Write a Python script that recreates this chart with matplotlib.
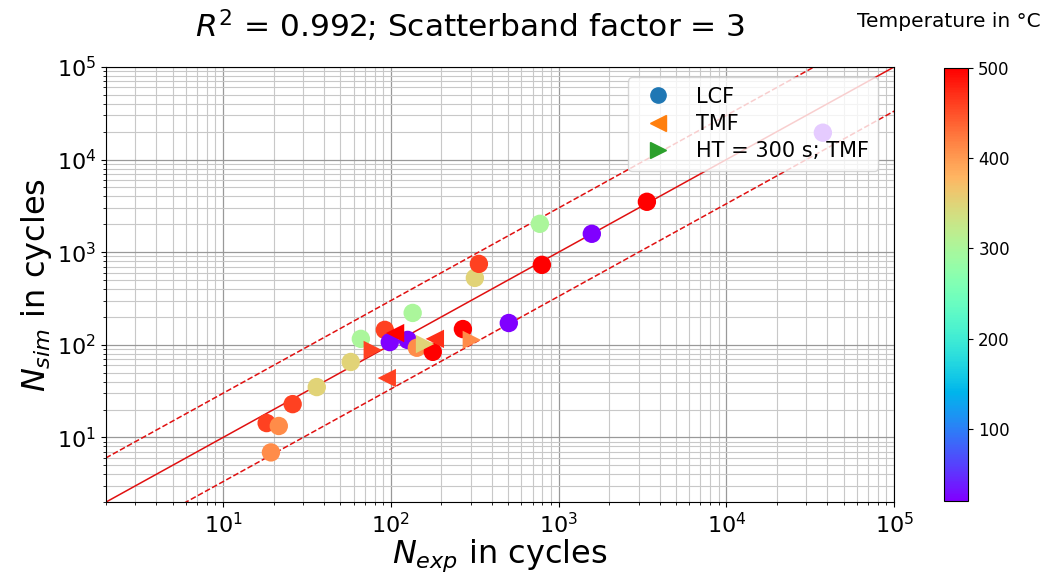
import numpy as np
import matplotlib
matplotlib.use('Agg')
import matplotlib.pyplot as plt
from matplotlib.lines import Line2D

# LCF tests (circles)
lcf_exp = [18.2, 21.5, 19.3, 26.0, 36.2, 57.7, 66.3, 92.1, 98.6, 126, 135, 143, 178,
           269, 505, 317, 335, 795, 773, 1578, 3360, 37600]
lcf_sim = [14.3, 13.3, 6.9, 22.9, 35.0, 65.3, 116, 145, 107, 113, 221, 93, 84,
           148, 172, 528, 748, 730, 2025, 1580, 3500, 19500]
lcf_temp = [460, 410, 410, 460, 350, 350, 300, 460, 20, 20, 300, 410, 500,
            500, 20, 350, 460, 500, 300, 20, 500, 20]

# TMF tests (left triangles)
tmf_exp = [106, 183, 94.6]
tmf_sim = [134, 116, 43.8]
tmf_temp = [500, 470, 460]

# HT = 300 s; TMF (right triangles)
ht_exp = [78.1, 160, 304]
ht_sim = [88, 102, 113]
ht_temp = [460, 350, 410]

t_min, t_max = 20, 500
lims = [2, 1e5]
band = 3

fig = plt.figure(figsize=(10.47, 5.72), dpi=100)
ax = fig.add_axes([0.101, 0.122, 0.753, 0.761])
cax = fig.add_axes([0.902, 0.124, 0.023, 0.757])

ax.set_xscale('log')
ax.set_yscale('log')
ax.set_xlim(lims)
ax.set_ylim(lims)
ax.grid(True, which='major', color='#999999', lw=0.9)
ax.grid(True, which='minor', color='#c8c8c8', lw=0.8)
ax.set_axisbelow(True)

xx = np.array(lims)
ax.plot(xx, xx, color='#e01010', lw=1.1, zorder=2)
ax.plot(xx, xx * band, color='#e01010', lw=1.1, ls='--', zorder=2)
ax.plot(xx, xx / band, color='#e01010', lw=1.1, ls='--', zorder=2)

kw = dict(cmap='rainbow', vmin=t_min, vmax=t_max, s=175, zorder=3, linewidths=0)
sc = ax.scatter(lcf_exp, lcf_sim, c=lcf_temp, marker='o', **kw)
ax.scatter(tmf_exp, tmf_sim, c=tmf_temp, marker='<', **kw)
ax.scatter(ht_exp, ht_sim, c=ht_temp, marker='>', **kw)

handles = [Line2D([], [], ls='', marker='o', color='C0', ms=11),
           Line2D([], [], ls='', marker='<', color='C1', ms=11),
           Line2D([], [], ls='', marker='>', color='C2', ms=11)]
leg = ax.legend(handles, ['LCF', 'TMF', 'HT = 300 s; TMF'], loc='upper right',
                fontsize=15, bbox_to_anchor=(0.993, 1.0), handlelength=2.0,
                handletextpad=0.8, borderpad=0.45, labelspacing=0.35)
leg.set_zorder(5)

ax.set_xlabel('$N_{exp}$ in cycles', fontsize=23, labelpad=0)
ax.set_ylabel('$N_{sim}$ in cycles', fontsize=23, labelpad=2)
ax.tick_params(axis='both', which='major', labelsize=16)
fig.text(0.449, 0.955, '$R^2$ = 0.992; Scatterband factor = 3', fontsize=22.5,
         ha='center', va='center')

cb = fig.colorbar(sc, cax=cax)
cb.set_ticks([100, 200, 300, 400, 500])
cb.ax.tick_params(labelsize=12)
cb.outline.set_linewidth(0.8)
fig.text(0.906, 0.962, 'Temperature in °C', fontsize=14.5, ha='center', va='center')

fig.savefig('out.png', dpi=100)
